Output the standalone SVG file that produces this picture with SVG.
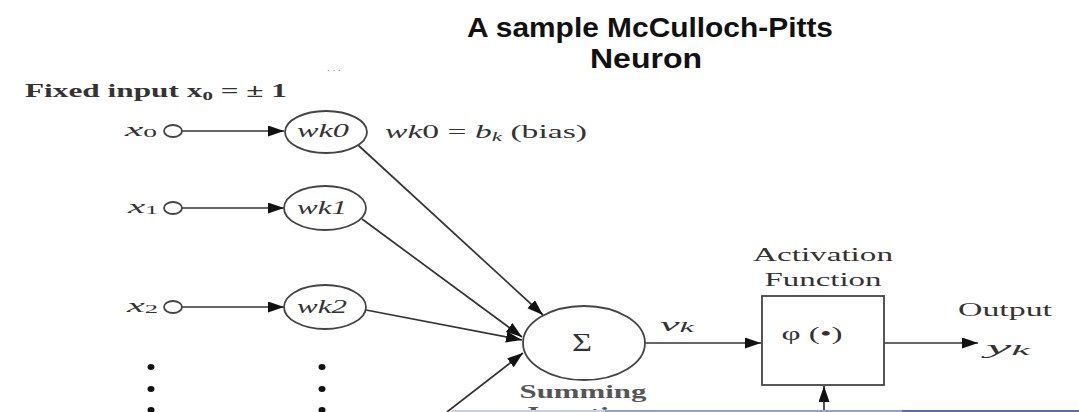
<svg xmlns="http://www.w3.org/2000/svg" width="1079" height="412" viewBox="0 0 1079 412">
<style>
.t{font-family:"Liberation Serif","Times New Roman",serif;fill:#333}
.ti{font-family:"Liberation Serif","Times New Roman",serif;font-style:italic;fill:#333}
.b{font-weight:bold}
.ln{stroke:#333;stroke-width:1.7;fill:none}
.sh{stroke:#444;stroke-width:1.8;fill:#fff}
.title{font-family:"Liberation Sans",Arial,sans-serif;font-weight:bold;font-size:28px;fill:#111;text-anchor:middle}
</style>
<defs>
<marker id="ah" markerUnits="userSpaceOnUse" markerWidth="17" markerHeight="12" refX="16" refY="5.5" orient="auto">
<path d="M0,0 L16,5.5 L0,11 z" fill="#111"/>
</marker>
</defs>
<rect width="1079" height="412" fill="#fff"/>
<g id="title">
<text class="title" x="650" y="37" textLength="366" lengthAdjust="spacingAndGlyphs">A sample McCulloch-Pitts</text>
<text class="title" x="646" y="68" textLength="112" lengthAdjust="spacingAndGlyphs">Neuron</text>
</g>
<text class="t" x="327" y="71" font-size="11" style="fill:#888">. . .</text>
<g id="fixed-label"><text class="t b" x="25" y="97" font-size="18" textLength="262" lengthAdjust="spacingAndGlyphs">Fixed input x<tspan font-size="12" dy="3">0</tspan><tspan dy="-3"> = ± 1</tspan></text></g>

<g id="connectors">
<line class="ln" x1="182" y1="131" x2="284" y2="131" marker-end="url(#ah)"/>
<line class="ln" x1="182" y1="208" x2="284" y2="208" marker-end="url(#ah)"/>
<line class="ln" x1="182" y1="307" x2="284" y2="307" marker-end="url(#ah)"/>
<line class="ln" x1="358" y1="145" x2="543" y2="315" marker-end="url(#ah)"/>
<line class="ln" x1="362" y1="219" x2="522" y2="337" marker-end="url(#ah)"/>
<line class="ln" x1="366" y1="310" x2="522" y2="340" marker-end="url(#ah)"/>
<line class="ln" x1="447" y1="412" x2="523" y2="353" marker-end="url(#ah)"/>
<line class="ln" x1="645" y1="343" x2="761" y2="343" marker-end="url(#ah)"/>
<line class="ln" x1="884" y1="343" x2="978" y2="343" marker-end="url(#ah)"/>
<line class="ln" x1="824" y1="412" x2="824" y2="386" marker-end="url(#ah)"/>
</g>

<g id="x0">
<text class="ti" x="125" y="136" font-size="18" textLength="32" lengthAdjust="spacingAndGlyphs">x<tspan font-size="12" dy="1" font-style="normal">0</tspan></text>
<ellipse class="sh" cx="173" cy="131" rx="9" ry="6"/>
</g>
<g id="x1">
<text class="ti" x="128" y="213" font-size="18" textLength="30" lengthAdjust="spacingAndGlyphs">x<tspan font-size="12" dy="1" font-style="normal">1</tspan></text>
<ellipse class="sh" cx="173" cy="208" rx="9" ry="6"/>
</g>
<g id="x2">
<text class="ti" x="127" y="312" font-size="18" textLength="31" lengthAdjust="spacingAndGlyphs">x<tspan font-size="12" dy="1" font-style="normal">2</tspan></text>
<ellipse class="sh" cx="173" cy="307" rx="9" ry="6"/>
</g>

<g id="wk0">
<ellipse class="sh" cx="326" cy="132" rx="41" ry="21"/>
<text class="ti" x="323" y="137" font-size="18" text-anchor="middle" textLength="52" lengthAdjust="spacingAndGlyphs">wk0</text>
</g>
<g id="wk1">
<ellipse class="sh" cx="325" cy="208" rx="41" ry="22"/>
<text class="ti" x="322" y="214" font-size="18" text-anchor="middle" textLength="50" lengthAdjust="spacingAndGlyphs">wk1</text>
</g>
<g id="wk2">
<ellipse class="sh" cx="325" cy="307" rx="41" ry="22"/>
<text class="ti" x="322" y="313" font-size="18" text-anchor="middle" textLength="50" lengthAdjust="spacingAndGlyphs">wk2</text>
</g>
<g id="bias-label">
<text class="t" x="385" y="138" font-size="19" textLength="202" lengthAdjust="spacingAndGlyphs"><tspan font-style="italic">wk</tspan>0 = <tspan font-style="italic">b<tspan font-size="13" dy="3">k</tspan></tspan><tspan dy="-3"> (bias)</tspan></text>
</g>

<g id="dots" fill="#111">
<ellipse cx="151" cy="367" rx="3.5" ry="3"/>
<ellipse cx="151" cy="389" rx="3.5" ry="3"/>
<ellipse cx="151" cy="410" rx="3.5" ry="3"/>
<ellipse cx="322" cy="367" rx="3.5" ry="3"/>
<ellipse cx="322" cy="389" rx="3.5" ry="3"/>
<ellipse cx="322" cy="410" rx="3.5" ry="3"/>
</g>

<g id="sum">
<ellipse class="sh" cx="584" cy="343" rx="61" ry="37"/>
<text class="t" x="582" y="351" font-size="26" text-anchor="middle" textLength="20" lengthAdjust="spacingAndGlyphs">Σ</text>
<text class="t b" x="583" y="398" font-size="19" text-anchor="middle" textLength="127" lengthAdjust="spacingAndGlyphs" style="fill:#555">Summing</text>
<text class="t b" x="583" y="420" font-size="19" text-anchor="middle" textLength="120" lengthAdjust="spacingAndGlyphs" style="fill:#555">Junction</text>
</g>
<text class="ti" x="660" y="331" font-size="19" textLength="34" lengthAdjust="spacingAndGlyphs">v<tspan font-size="14" dy="1">k</tspan></text>

<g id="activation">
<text class="t" x="823" y="261" font-size="19" text-anchor="middle" textLength="140" lengthAdjust="spacingAndGlyphs">Activation</text>
<text class="t" x="823" y="286" font-size="19" text-anchor="middle" textLength="117" lengthAdjust="spacingAndGlyphs">Function</text>
<rect class="sh" x="762" y="296" width="122" height="89"/>
<text class="t" x="812" y="340" font-size="19" text-anchor="middle" textLength="61" lengthAdjust="spacingAndGlyphs">φ (•)</text>
</g>
<g id="output">
<text class="t" x="958" y="316" font-size="19" textLength="94" lengthAdjust="spacingAndGlyphs">Output</text>
<text class="ti" x="986" y="354" font-size="19" textLength="44" lengthAdjust="spacingAndGlyphs">y<tspan font-size="14" dy="1">k</tspan></text>
</g>
<g id="bottom-edge">
<rect x="452" y="410" width="153" height="2" fill="#c4d0e4"/>
<rect x="605" y="410" width="297" height="2" fill="#8da2c8"/>
<rect x="902" y="410" width="177" height="2" fill="#5570a4"/>
</g>
</svg>
